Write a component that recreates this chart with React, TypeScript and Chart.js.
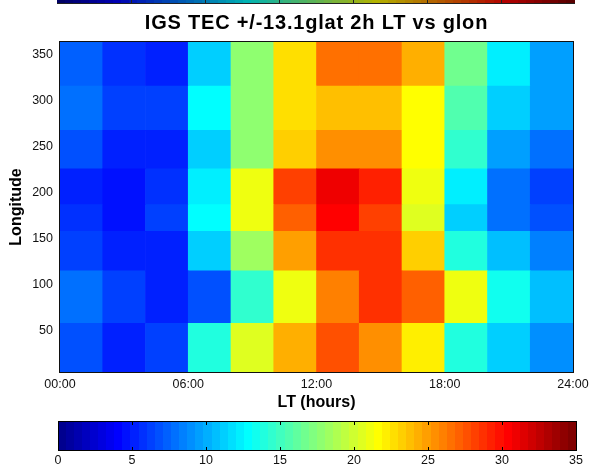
import { useEffect, useRef } from 'react';
import { Chart, registerables } from 'chart.js';

Chart.register(...registerables);

const TITLE = 'IGS TEC +/-13.1glat 2h LT vs glon';
const X_LABEL = 'LT (hours)';
const Y_LABEL = 'Longitude';

// 2-hour local-time bins (bin centres, hours)
const ltBinCenters = [1, 3, 5, 7, 9, 11, 13, 15, 17, 19, 21, 23];
// longitude bin edges (deg), bottom to top
const lonEdges = [5, 58, 115, 158, 187, 226, 268, 316, 364];

// TEC per longitude bin (bottom to top), one value per LT bin
const tecLon5 = [6.8, 5.2, 6.3, 13.95, 20.5, 24.3, 27.6, 25.4, 22.15, 13.95, 11.2, 9.0];
const tecLon58 = [7.9, 6.3, 5.2, 6.8, 14.5, 21.05, 26.0, 28.7, 27.1, 21.05, 13.4, 10.7];
const tecLon115 = [6.3, 5.2, 5.2, 11.0, 18.3, 24.9, 28.7, 28.7, 23.2, 13.95, 10.7, 8.5];
const tecLon158 = [5.7, 4.65, 6.3, 12.85, 21.05, 27.1, 30.4, 28.2, 20.5, 11.0, 7.9, 6.8];
const tecLon187 = [5.2, 4.65, 5.5, 12.3, 21.05, 28.2, 30.9, 29.3, 21.05, 12.3, 7.9, 6.3];
const tecLon226 = [6.8, 5.2, 5.2, 11.0, 17.8, 23.2, 25.4, 25.4, 21.6, 14.5, 9.6, 7.9];
const tecLon268 = [7.7, 6.3, 6.3, 12.85, 17.8, 22.7, 23.8, 23.8, 21.6, 15.6, 11.0, 9.6];
const tecLon316 = [7.5, 5.9, 5.0, 11.0, 17.8, 22.7, 26.5, 26.5, 24.3, 16.7, 12.3, 9.6];
const tecRows = [tecLon5, tecLon58, tecLon115, tecLon158, tecLon187, tecLon226, tecLon268, tecLon316];

const ltTicks = [0, 6, 12, 18, 24];
const ltTickLabels = ['00:00', '06:00', '12:00', '18:00', '24:00'];
const lonTicks = [50, 100, 150, 200, 250, 300, 350];
const cbTicks = [0, 5, 10, 15, 20, 25, 30, 35];
const CB_MIN = 0;
const CB_MAX = 35;

const FONT = '"Liberation Sans", Arial, Helvetica, sans-serif';

// MATLAB-style jet colormap with 64 levels
function jetLevel(k: number): [number, number, number] {
  const u = (j: number) => (j < 1 || j > 47 ? 0 : j <= 16 ? j / 16 : j <= 31 ? 1 : (48 - j) / 16);
  return [u(k - 24), u(k - 8), u(k + 8)];
}
function rgb(c: [number, number, number], shade = 1) {
  return `rgb(${Math.round(c[0] * 255 * shade)},${Math.round(c[1] * 255 * shade)},${Math.round(c[2] * 255 * shade)})`;
}
function jet(v: number) {
  let k = Math.floor(((v - CB_MIN) / (CB_MAX - CB_MIN)) * 64) + 1;
  k = Math.max(1, Math.min(64, k));
  return rgb(jetLevel(k));
}

// horizontal colorbar geometry
const CB_LEFT = 58;
const CB_RIGHT = 577;
const CB_TOP = 421;
const CB_BOTTOM = 451;

function drawColorStrip(ctx: CanvasRenderingContext2D, x0: number, x1: number, y0: number, y1: number, shade: number) {
  const w = (x1 - x0) / 64;
  for (let k = 1; k <= 64; k++) {
    ctx.fillStyle = rgb(jetLevel(k), shade);
    const a = Math.floor(x0 + (k - 1) * w);
    const b = Math.ceil(x0 + k * w);
    ctx.fillRect(a, y0, b - a, y1 - y0);
  }
}

const decorPlugin = {
  id: 'decor',
  afterDatasetsDraw(chart: any) {
    const { ctx, chartArea } = chart;
    const { left, right, top, bottom } = chartArea;
    ctx.save();
    ctx.strokeStyle = '#111';
    ctx.lineWidth = 1;
    ctx.strokeRect(Math.round(left) - 0.5, Math.round(top) - 0.5, Math.round(right - left) + 1, Math.round(bottom - top) + 1);
    ctx.restore();
  },
  afterDraw(chart: any) {
    const { ctx, chartArea } = chart;
    ctx.save();

    // title above the axes
    ctx.fillStyle = '#000';
    ctx.font = `bold 20px ${FONT}`;
    ctx.textAlign = 'center';
    ctx.textBaseline = 'alphabetic';
    (ctx as any).letterSpacing = '0.8px';
    ctx.fillText(TITLE, (chartArea.left + chartArea.right) / 2, 29);
    (ctx as any).letterSpacing = '0px';

    // thin strip of a neighbouring colorbar at the very top
    drawColorStrip(ctx, 57, 575, 0, 4, 0.7);
    ctx.fillStyle = '#222';
    ctx.fillRect(57, 3, 518, 1);
    for (let i = 1; i < cbTicks.length - 1; i++) {
      const x = Math.round(57 + (i / (cbTicks.length - 1)) * 518);
      ctx.fillRect(x, 0, 1, 4);
    }

    // colorbar
    drawColorStrip(ctx, CB_LEFT, CB_RIGHT, CB_TOP, CB_BOTTOM, 1);
    ctx.strokeStyle = '#000';
    ctx.lineWidth = 1;
    ctx.strokeRect(CB_LEFT + 0.5, CB_TOP + 0.5, CB_RIGHT - CB_LEFT - 1, CB_BOTTOM - CB_TOP - 1);
    ctx.font = `12.5px ${FONT}`;
    ctx.fillStyle = '#111';
    ctx.textAlign = 'center';
    ctx.textBaseline = 'middle';
    cbTicks.forEach((t) => {
      const x = CB_LEFT + ((t - CB_MIN) / (CB_MAX - CB_MIN)) * (CB_RIGHT - CB_LEFT - 1);
      const xp = Math.round(x) + 0.5;
      ctx.beginPath();
      ctx.moveTo(xp, CB_TOP);
      ctx.lineTo(xp, CB_TOP + 4);
      ctx.moveTo(xp, CB_BOTTOM);
      ctx.lineTo(xp, CB_BOTTOM - 4);
      ctx.stroke();
      ctx.fillText(String(t), x, 461);
    });
    ctx.restore();
  },
};

export default function App() {
  const canvasRef = useRef<HTMLCanvasElement | null>(null);

  useEffect(() => {
    const canvas = canvasRef.current;
    if (!canvas) return;

    const datasets = tecRows.map((row, r) => ({
      label: `${lonEdges[r]}-${lonEdges[r + 1]}`,
      data: ltBinCenters.map((h) => ({ x: h, y: [lonEdges[r], lonEdges[r + 1]] })),
      backgroundColor: row.map(jet),
      borderWidth: 0,
      barPercentage: 1,
      categoryPercentage: 1,
      grouped: false,
    }));

    const chart = new Chart(canvas, {
      type: 'bar',
      data: { datasets: datasets as any },
      options: {
        responsive: false,
        animation: false,
        events: [],
        layout: { padding: { top: 42, right: 24, left: 0, bottom: 0 } },
        plugins: {
          legend: { display: false },
          title: { display: false },
          tooltip: { enabled: false },
        },
        scales: {
          x: {
            type: 'linear',
            min: 0,
            max: 24,
            offset: false,
            grid: { display: false, drawTicks: false },
            border: { display: false },
            afterBuildTicks: (scale: any) => {
              scale.ticks = ltTicks.map((v) => ({ value: v }));
            },
            afterFit: (scale: any) => {
              scale.height = 96;
            },
            ticks: {
              autoSkip: false,
              maxRotation: 0,
              padding: 5,
              color: '#111',
              font: { family: FONT, size: 12.5 },
              callback: (v: any) => ltTickLabels[ltTicks.indexOf(Number(v))] ?? '',
            },
            title: {
              display: true,
              text: X_LABEL,
              color: '#000',
              font: { family: FONT, size: 16, weight: 'bold' },
              padding: { top: 0, bottom: 56 },
            },
          },
          y: {
            type: 'linear',
            min: lonEdges[0],
            max: lonEdges[lonEdges.length - 1],
            grid: { display: false, drawTicks: false },
            border: { display: false },
            afterBuildTicks: (scale: any) => {
              scale.ticks = lonTicks.map((v) => ({ value: v }));
            },
            afterFit: (scale: any) => {
              scale.width = 60;
            },
            ticks: {
              padding: 7,
              color: '#111',
              font: { family: FONT, size: 12.5 },
              callback: (v: any) => String(v),
            },
            title: {
              display: true,
              text: Y_LABEL,
              color: '#000',
              font: { family: FONT, size: 16, weight: 'bold' },
              padding: { top: 6.5, bottom: 0 },
            },
          },
        },
      } as any,
      plugins: [decorPlugin],
    });

    return () => chart.destroy();
  }, []);

  return (
    <div style={{ position: 'absolute', left: 0, top: 0, width: 597, height: 468, background: '#fff' }}>
      <canvas ref={canvasRef} width={597} height={468} />
    </div>
  );
}
